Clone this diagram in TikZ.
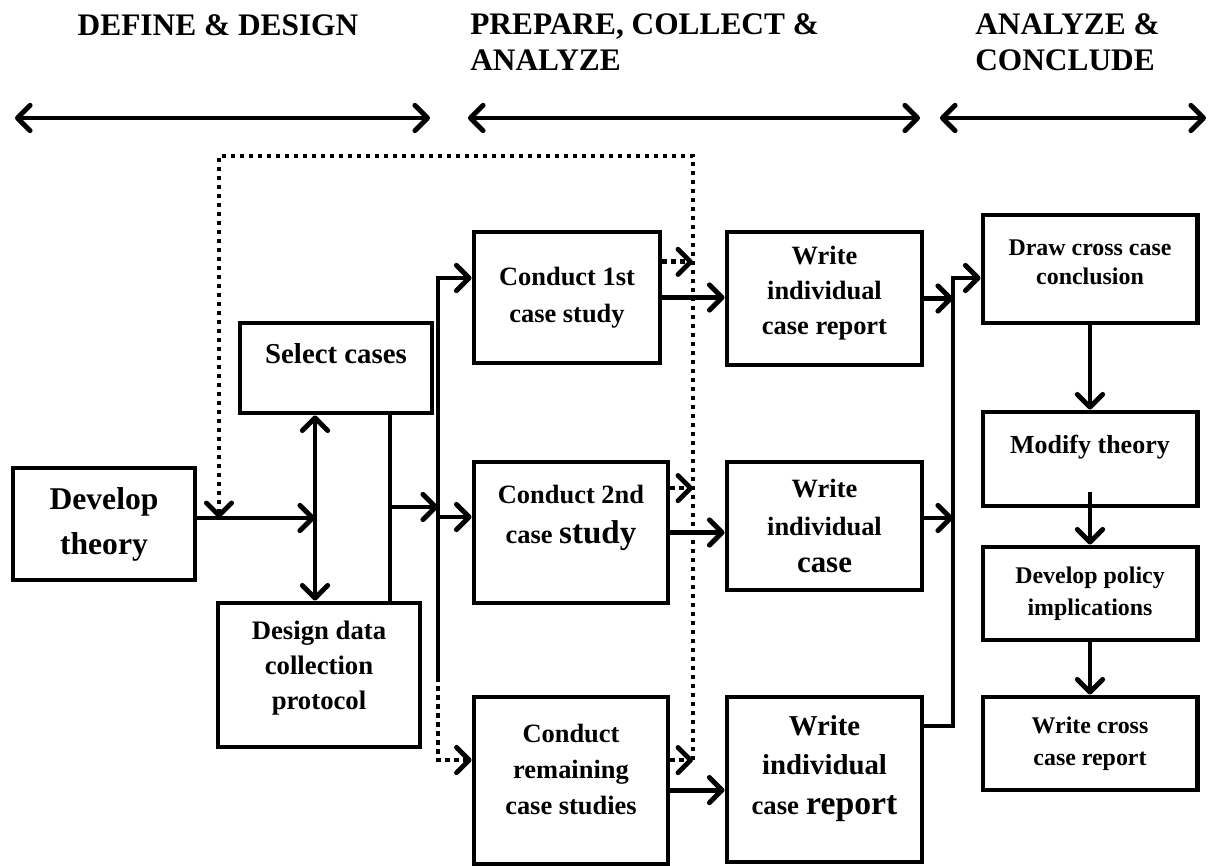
\documentclass[tikz,border=0pt]{standalone}
\usepackage{fontspec}
\setmainfont{Liberation Serif}
\usetikzlibrary{arrows.meta, positioning}
\newcommand{\setsz}[2]{\fontsize{#1}{#2}\selectfont}

\begin{document}
\begin{tikzpicture}[
    x=0.025cm, y=-0.025cm,
    thickln/.style={line width=3.5pt},
    box/.style={draw, line width=3.5pt, align=center, inner sep=2pt},
    hdr/.style={font=\bfseries\setsz{22.3}{26}, inner sep=0pt, align=left},
    arr/.style={thickln, -{Straight Barb[length=9pt, width=18pt, round]}},
    arrboth/.style={thickln, {Straight Barb[length=9pt, width=18pt, round]}-{Straight Barb[length=9pt, width=18pt, round]}},
    dotln/.style={line width=3.4pt, dash pattern=on 3.2pt off 3.2pt},
    dotarr/.style={dotln, -{Straight Barb[length=9pt, width=18pt, round]}}
]
\useasboundingbox (0,0) rectangle (1218,866);

% phase headers
\node[hdr, align=center] (hdef) at (218,25) {DEFINE \& DESIGN};
\node[hdr, anchor=north west] (hprep) at (470,13) {PREPARE, COLLECT \&\\ANALYZE};
\node[hdr, anchor=north west] (hanl) at (975,13) {ANALYZE \&\\CONCLUDE};
\foreach \xa/\xb in {15/430, 468/920, 940/1206}
  \draw[arrboth] (\xa,118) -- (\xb,118);

% define & design
\node[box, minimum width=4.55cm, minimum height=2.8cm, font=\bfseries\setsz{22.5}{32}] (dev) at (104,524) {Develop\\theory};
\node[box, minimum width=4.8cm, minimum height=2.25cm, text depth=21pt, font=\bfseries\setsz{20.5}{25}] (sel) at (336,368) {Select cases};
\node[box, minimum width=5.05cm, minimum height=3.6cm, text depth=14pt, font=\bfseries\setsz{19}{25}] (dsg) at (319,675) {Design data\\collection\\protocol};

% prepare, collect & analyze
\node[box, minimum width=4.65cm, minimum height=3.275cm, font=\bfseries\setsz{18.8}{26}] (c1) at (567,297.5) {Conduct 1st\\case study};
\node[box, minimum width=4.85cm, minimum height=3.525cm, text depth=26pt, font=\bfseries\setsz{18.8}{28}] (c2) at (571,532.5) {Conduct 2nd\\case {\setsz{23.5}{28}study}};
\node[box, minimum width=4.85cm, minimum height=4.175cm, text depth=15.6pt, font=\bfseries\setsz{18.8}{25.5}] (c3) at (571,780.5) {Conduct\\remaining\\case studies};
\node[box, minimum width=4.875cm, minimum height=3.325cm, text depth=12pt, font=\bfseries\setsz{18.8}{25}] (w1) at (824.5,298.5) {Write\\individual\\case report};
\node[box, minimum width=4.875cm, minimum height=3.2cm, font=\bfseries\setsz{18.8}{26.5}] (w2) at (824.5,526) {Write\\individual\\{\setsz{22}{26.5}case}};
\node[box, minimum width=4.875cm, minimum height=4.125cm, text depth=21pt, font=\bfseries\setsz{20.5}{28}] (w3) at (824.5,779.5) {Write\\individual\\{\setsz{19}{28}case} {\setsz{24}{28}report}};

% analyze & conclude
\node[box, minimum width=5.35cm, minimum height=2.7cm, text depth=10pt, font=\bfseries\setsz{17}{21}] (drw) at (1090,269) {Draw cross case\\conclusion};
\node[box, minimum width=5.35cm, minimum height=2.35cm, text depth=20.7pt, font=\bfseries\setsz{18.5}{22}] (mod) at (1090,459) {Modify theory};
\node[box, minimum width=5.35cm, minimum height=2.325cm, font=\bfseries\setsz{17}{22.7}] (pol) at (1090,593.5) {Develop policy\\implications};
\node[box, minimum width=5.35cm, minimum height=2.325cm, font=\bfseries\setsz{17}{22.7}] (wcr) at (1090,743.5) {Write cross\\case report};

% junction points
\coordinate (jn) at (315,518);
\coordinate (tie) at (390,507);
\coordinate (bustop) at (438,278);
\coordinate (busmid) at (438,517);
\coordinate (busend) at (438,677);
\coordinate (busdot) at (438,760);
\coordinate (fbtr) at (693,156);
\coordinate (fbtl) at (219,156);
\coordinate (rbtop) at (953,278);
\coordinate (rbbot) at (953,726);

% connectors
\draw[arr] (dev.east |- jn) -- (jn);
\draw[arrboth] (jn |- sel.south) -- (jn |- dsg.north);
\draw[thickln] (tie |- sel.south) -- (tie |- dsg.north);
\draw[arr] (tie) -- (tie -| bustop);
\draw[arr] (busend) -- (bustop) -- (bustop -| c1.west);
\draw[arr] (busmid) -- (busmid -| c2.west);
\draw[dotarr] (busend) -- (busdot) -- (busdot -| c3.west);

\draw[arr] (c1.east) -- (c1.east -| w1.west);
\draw[arr] (c2.east) -- (c2.east -| w2.west);
\draw[arr] ([yshift=-0.24cm]c3.east) -- ([yshift=-0.24cm]c3.east -| w3.west);

% feedback loop
\draw[dotarr] ([yshift=0.89cm]c1.east) -- ([yshift=0.89cm]c1.east -| fbtr);
\draw[dotarr] ([yshift=1.11cm]c2.east) -- ([yshift=1.11cm]c2.east -| fbtr);
\draw[dotarr] ([yshift=0.51cm]c3.east) -- ([yshift=0.51cm]c3.east -| fbtr);
\draw[dotarr] (fbtr |- busdot) -- (fbtr) -- (fbtl) -- (fbtl |- jn);

\draw[arr] (w1.east) -- (w1.east -| rbtop);
\draw[arr] ([yshift=0.2cm]w2.east) -- ([yshift=0.2cm]w2.east -| rbtop);
\draw[arr] (w3.east |- rbbot) -- (rbbot) -- (rbtop) -- (rbtop -| drw.west);
\draw[arr] (drw.south) -- (mod.north);
\draw[arr] ([yshift=0.4cm]mod.south) -- (pol.north);
\draw[arr] (pol.south) -- (wcr.north);
\end{tikzpicture}
\end{document}
